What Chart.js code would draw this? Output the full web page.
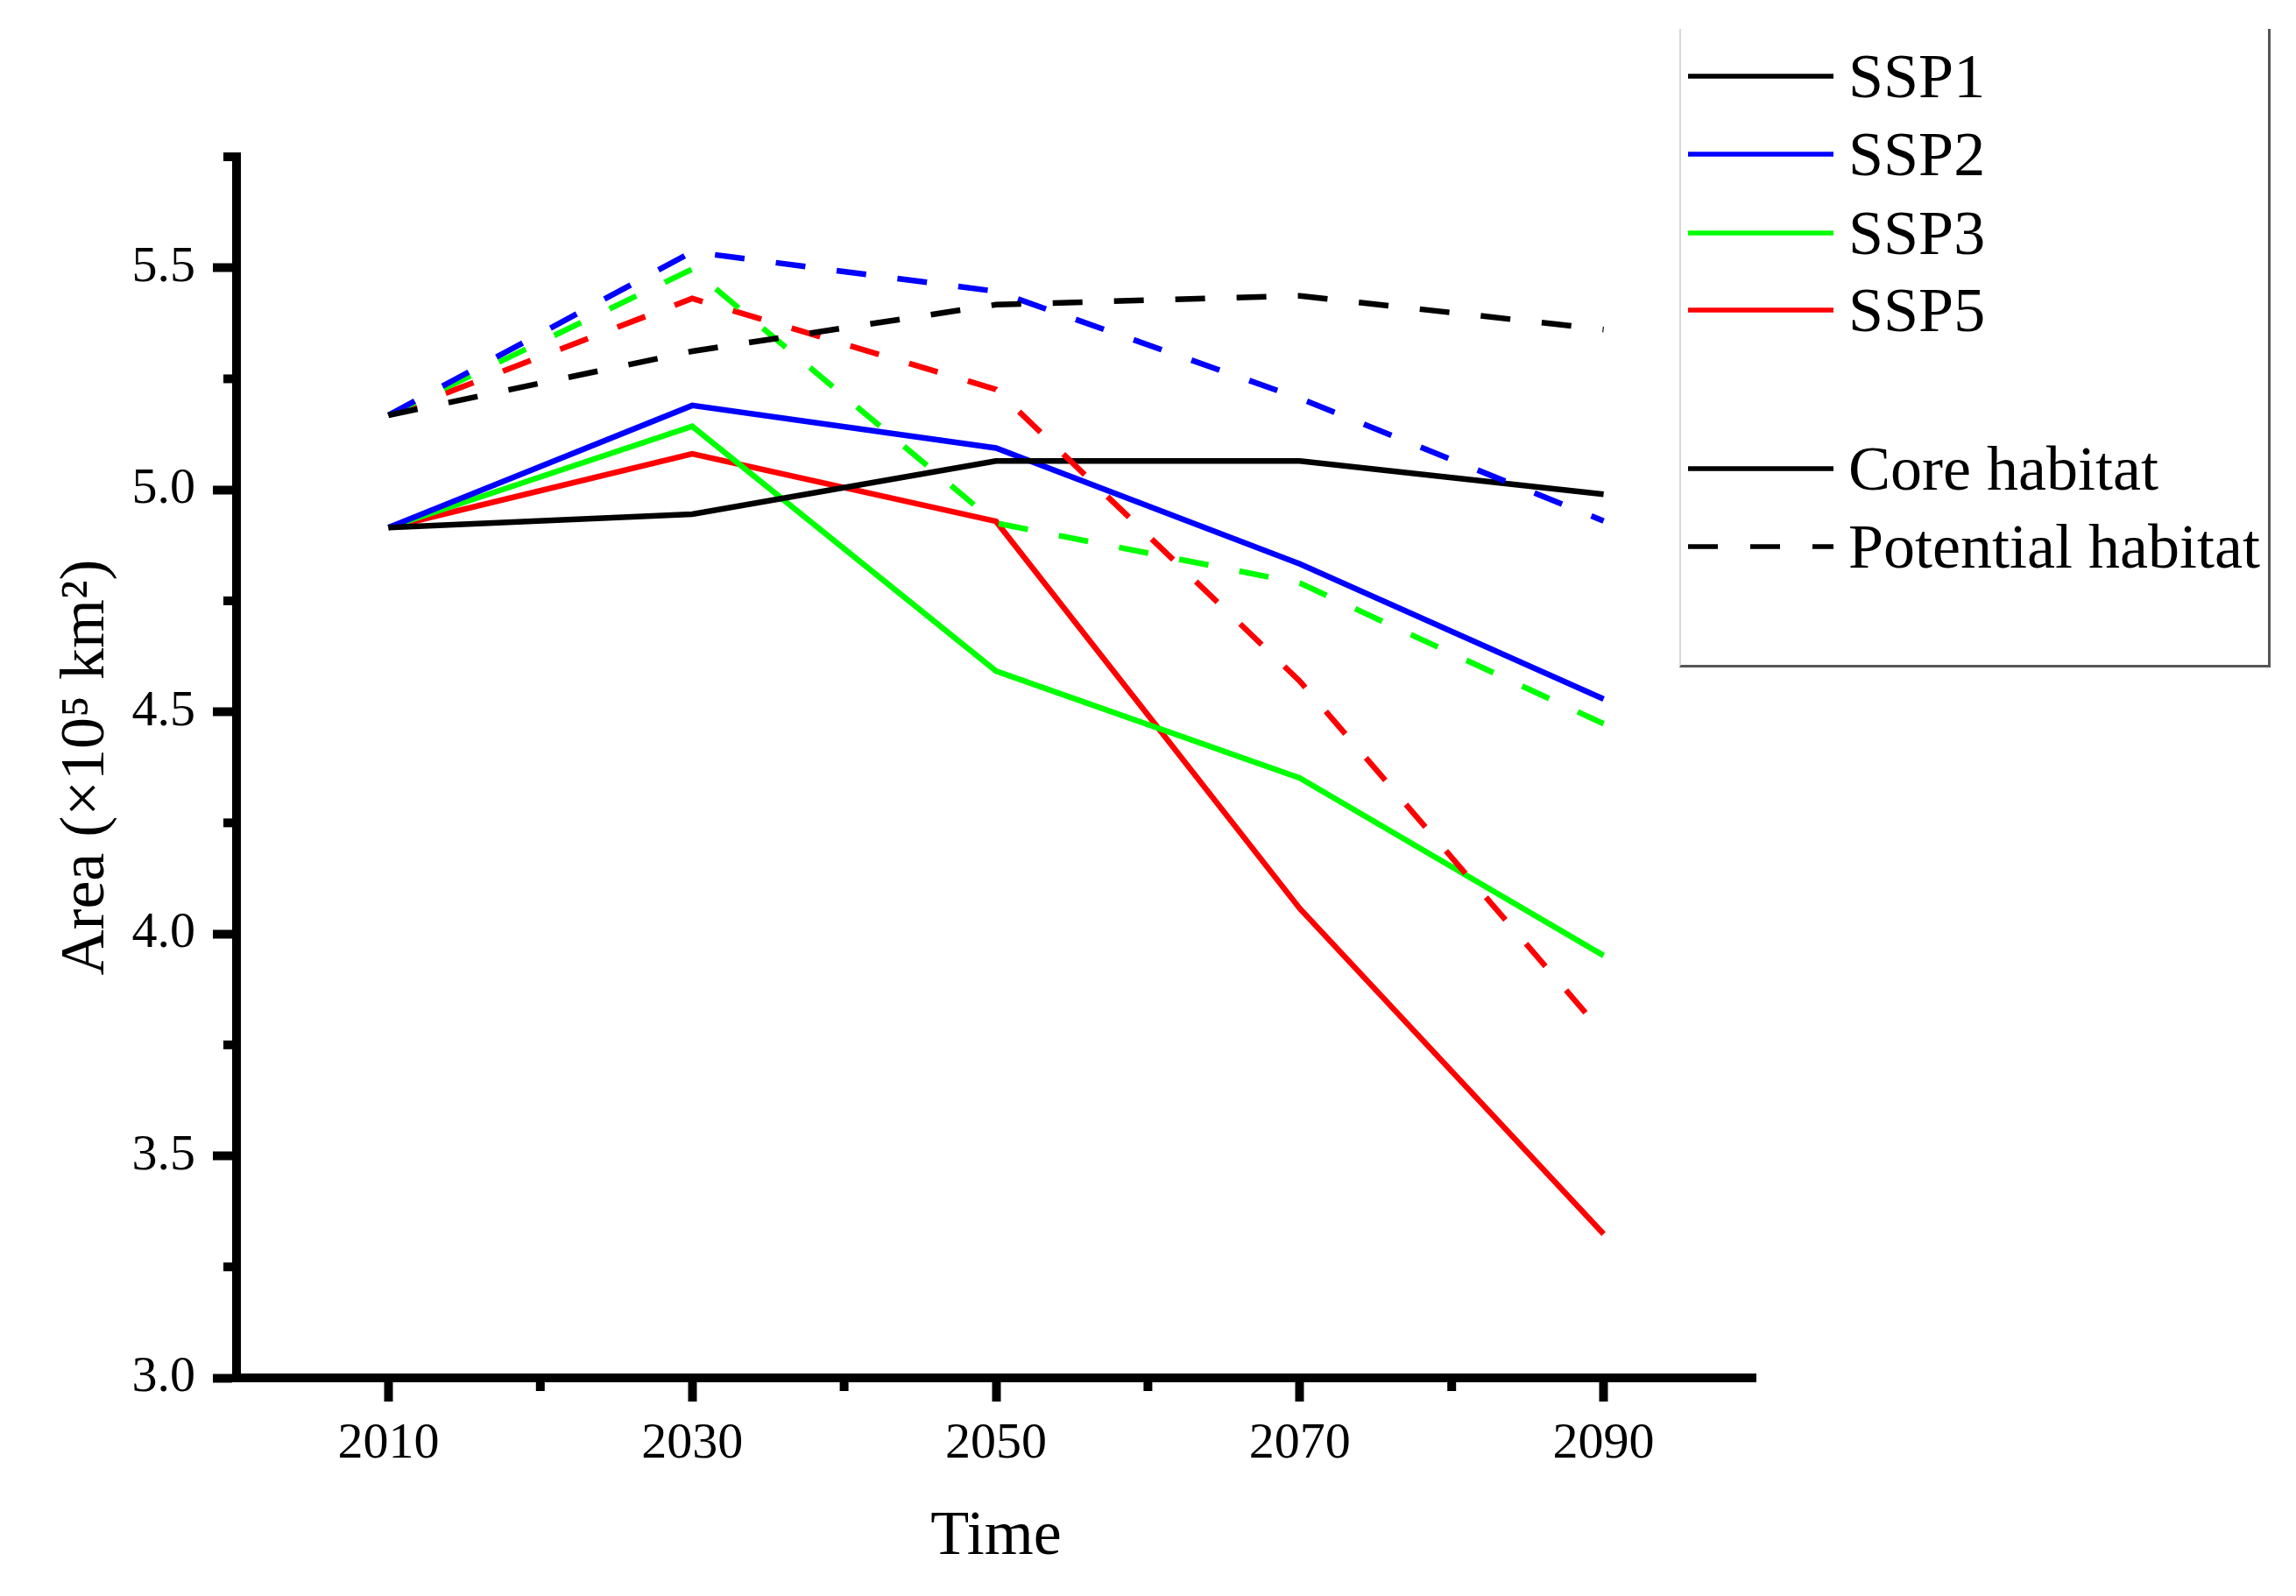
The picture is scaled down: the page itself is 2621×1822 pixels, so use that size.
<!DOCTYPE html>
<html>
<head>
<meta charset="utf-8">
<script src="https://cdn.jsdelivr.net/npm/chart.js@4"></script>
<style>
  html, body { margin: 0; padding: 0; background: #fff; }
  #wrap { position: relative; width: 2621px; height: 1822px; }
  #legend {
    position: absolute; left: 1917px; top: 33px; width: 670px; height: 726px;
    border-left: 2px solid #d8d8d8; border-right: 3px solid #555; border-bottom: 3px solid #555;
    font-family: "Liberation Serif", "Times New Roman", serif; font-size: 72px; color: #000;
  }
  .row { position: absolute; left: 0; height: 80px; display: flex; align-items: center; }
  .row svg { margin-left: 8px; width: 166px; height: 20px; }
  .row span { margin-left: 17px; white-space: nowrap; }
</style>
</head>
<body>
<div id="wrap">
  <canvas id="myChart" width="2621" height="1822"></canvas>
  <div id="legend"></div>
</div>
<script>
// years on the x axis
let years = [2010, 2030, 2050, 2070, 2090];
let xTicks = [2010, 2030, 2050, 2070, 2090];
let yTicks = [3.0, 3.5, 4.0, 4.5, 5.0, 5.5];

// core habitat (solid)
let ssp1Core = [4.915, 4.945, 5.065, 5.065, 4.99];
let ssp2Core = [4.915, 5.19, 5.094, 4.833, 4.529];
let ssp3Core = [4.915, 5.143, 4.592, 4.351, 3.951];
let ssp5Core = [4.915, 5.081, 4.929, 4.057, 3.324];

// potential habitat (dashed)
let ssp1Pot = [5.168, 5.312, 5.417, 5.437, 5.361];
let ssp2Pot = [5.168, 5.536, 5.447, 5.206, 4.93];
let ssp3Pot = [5.168, 5.497, 4.925, 4.79, 4.473];
let ssp5Pot = [5.168, 5.431, 5.226, 4.569, 3.775];

let sspNames = ['SSP1', 'SSP2', 'SSP3', 'SSP5'];
let colors = ['#000000', '#0000ff', '#00ff00', '#ff0000'];

const serif = '"Liberation Serif", "Times New Roman", serif';

function pts(vals) {
    return vals.map((v, i) => ({x: years[i], y: v}));
}

function makeSet(label, vals, color, dashed) {
    return {
        label: label,
        data: pts(vals),
        borderColor: color,
        backgroundColor: color,
        borderWidth: 6.5,
        borderDash: dashed ? [34, 36] : [],
        pointRadius: 0,
        tension: 0,
        fill: false
    };
}

let core = [ssp1Core, ssp2Core, ssp3Core, ssp5Core];
let pot = [ssp1Pot, ssp2Pot, ssp3Pot, ssp5Pot];
let datasets = [];
for (let i = 0; i < 4; i++) datasets.push(makeSet(sspNames[i] + ' potential', pot[i], colors[i], true));
for (let i = 0; i < 4; i++) datasets.push(makeSet(sspNames[i] + ' core', core[i], colors[i], false));

// small ticks between the labelled ones
const minorTicks = {
    id: 'minorTicks',
    afterDraw(chart) {
        const c = chart.ctx;
        const xs = chart.scales.x, ys = chart.scales.y;
        const a = chart.chartArea;
        c.save();
        c.strokeStyle = '#000';
        c.lineWidth = 10;
        [2020, 2040, 2060, 2080].forEach(v => {
            let px = xs.getPixelForValue(v);
            c.beginPath(); c.moveTo(px, a.bottom); c.lineTo(px, a.bottom + 15); c.stroke();
        });
        [3.25, 3.75, 4.25, 4.75, 5.25, 5.75].forEach(v => {
            let py = ys.getPixelForValue(v);
            c.beginPath(); c.moveTo(a.left, py); c.lineTo(a.left - 15, py); c.stroke();
        });
        c.restore();
    }
};

let ctx1 = document.getElementById('myChart').getContext('2d');
let myChart = new Chart(ctx1, {
    type: 'line',
    data: { datasets: datasets },
    plugins: [minorTicks],
    options: {
        responsive: false,
        animation: false,
        devicePixelRatio: 1,
        layout: { padding: { top: 179, right: 617, left: 0, bottom: 0 } },
        plugins: { legend: { display: false }, tooltip: { enabled: false } },
        scales: {
            x: {
                type: 'linear',
                min: 2000,
                max: 2100,
                afterBuildTicks: (s) => { s.ticks = xTicks.map(v => ({value: v})); },
                afterFit: (s) => { s.height = 249; },
                border: { display: true, color: '#000', width: 10 },
                grid: { drawOnChartArea: false, drawTicks: true, tickLength: 27, tickWidth: 10, tickColor: '#000' },
                ticks: { color: '#000', font: { family: serif, size: 58 }, padding: 14, maxRotation: 0,
                    callback: (v) => String(v) },
                title: { display: true, text: 'Time', color: '#000', font: { family: serif, size: 72 },
                    padding: { top: 0, bottom: 24 } }
            },
            y: {
                min: 3.0,
                max: 5.75,
                afterBuildTicks: (s) => { s.ticks = yTicks.map(v => ({value: v})); },
                afterFit: (s) => { s.width = 270; },
                border: { display: true, color: '#000', width: 10 },
                grid: { drawOnChartArea: false, drawTicks: true, tickLength: 27, tickWidth: 10, tickColor: '#000' },
                ticks: { color: '#000', font: { family: serif, size: 58 }, padding: 20,
                    callback: (v) => Number(v).toFixed(1) },
                title: { display: true, text: 'Area (\u00d710\u2075 km\u00b2)', color: '#000',
                    font: { family: serif, size: 72 }, padding: { top: 56, bottom: 0 } }
            }
        }
    }
});

// legend box on the right
let legendRows = [
    {text: 'SSP1', color: colors[0], dash: false, y: 54},
    {text: 'SSP2', color: colors[1], dash: false, y: 143},
    {text: 'SSP3', color: colors[2], dash: false, y: 233},
    {text: 'SSP5', color: colors[3], dash: false, y: 321},
    {text: 'Core habitat', color: '#000', dash: false, y: 502},
    {text: 'Potential habitat', color: '#000', dash: true, y: 591}
];
let lg = document.getElementById('legend');
legendRows.forEach(r => {
    let d = document.createElement('div');
    d.className = 'row';
    d.style.top = (r.y - 40) + 'px';
    d.innerHTML = `<svg viewBox="0 0 166 20"><line x1="0" y1="10" x2="166" y2="10" stroke="${r.color}" stroke-width="5.5"` +
        (r.dash ? ` stroke-dasharray="34 37"` : '') + `/></svg><span>${r.text}</span>`;
    lg.appendChild(d);
});
</script>
</body>
</html>
